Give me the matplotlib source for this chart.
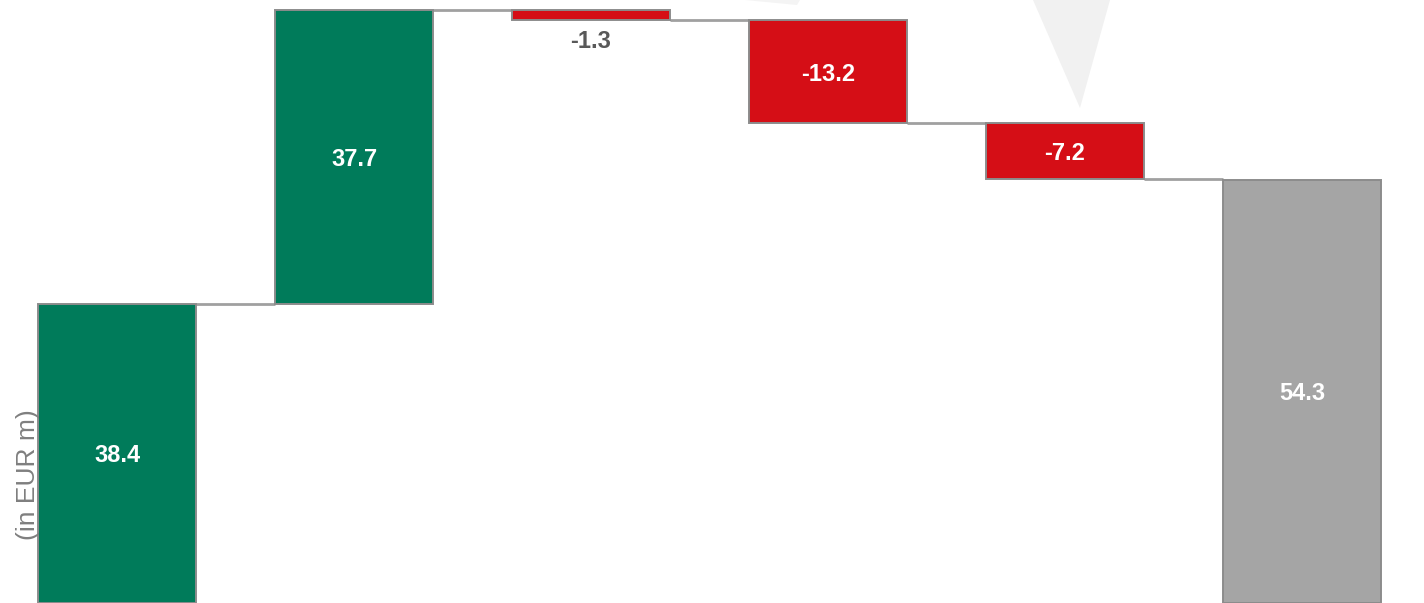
import matplotlib.pyplot as plt
from matplotlib.patches import Polygon
import matplotlib.font_manager as fm

# waterfall steps (EUR m)
steps = ['Start', 'Increase', 'Item A', 'Item B', 'Item C', 'End']
values = [38.4, 37.7, -1.3, -13.2, -7.2, 54.3]
kinds = ['total', 'delta', 'delta', 'delta', 'delta', 'total']
labels = ['38.4', '37.7', '-1.3', '-13.2', '-7.2', '54.3']

green = '#007B5A'
red = '#D50E16'
grey = '#A5A5A5'

names = {f.name for f in fm.fontManager.ttflist}
narrow = 'Liberation Sans Narrow' if 'Liberation Sans Narrow' in names else 'Liberation Sans'

fig = plt.figure(figsize=(14.24, 6.03), dpi=100)
ax = fig.add_axes([0, 0, 1, 1])

# background decoration
ax.add_patch(Polygon([(1033 / 1424, 1), (1110 / 1424, 1), (1080 / 1424, 1 - 108 / 603)],
                     closed=True, transform=ax.transAxes, color='#F1F1F1', lw=0, zorder=0))
ax.add_patch(Polygon([(745 / 1424, 1), (800 / 1424, 1), (797 / 1424, 1 - 5 / 603)],
                     closed=True, transform=ax.transAxes, color='#F4F4F4', lw=0, zorder=0))

bottoms, heights, colors, levels = [], [], [], []
running = 0.0
for v, k in zip(values, kinds):
    if k == 'total':
        bottoms.append(0)
        heights.append(v)
        colors.append(green if running == 0 else grey)
        running = v
    else:
        start = running
        running = start + v
        bottoms.append(min(start, running))
        heights.append(abs(v))
        colors.append(green if v > 0 else red)
    levels.append(running)

x = list(range(len(values)))
w = 0.667
ax.bar(x, heights, bottom=bottoms, width=w, color=colors,
       edgecolor='#8C8C8C', linewidth=1.4, zorder=3)

# connector lines between bars
for i in range(len(values) - 1):
    ax.plot([i + w / 2, i + 1 - w / 2], [levels[i], levels[i]],
            color='#A0A0A0', lw=2, zorder=2, solid_capstyle='butt')

for i, (b, h, t) in enumerate(zip(bottoms, heights, labels)):
    if h < 3:
        ax.annotate(t, (i, b), xytext=(0, -7), textcoords='offset points',
                    ha='center', va='top', fontsize=17, fontweight='bold',
                    color='#595959', family=narrow, zorder=4)
    else:
        ax.text(i, b + h / 2, t, ha='center', va='center_baseline', fontsize=17,
                fontweight='bold', color='white', family=narrow, zorder=4)

ax.text(28 / 1424, 1 - 475 / 603, '(in EUR m)', transform=ax.transAxes,
        rotation=90, ha='center', va='center', fontsize=19, color='#7F7F7F',
        family='Liberation Sans', zorder=4)

ax.set_xlim(-0.494, 5.515)
ax.set_ylim(0, 77.4)
ax.axis('off')

fig.savefig('out.png', dpi=100)
